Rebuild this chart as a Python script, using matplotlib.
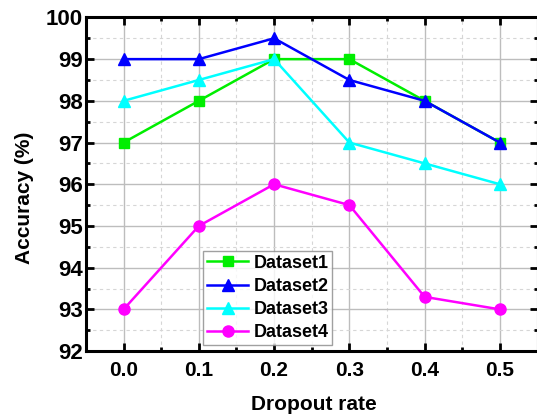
import matplotlib
matplotlib.use("Agg")
import matplotlib.pyplot as plt
from matplotlib.ticker import MultipleLocator

plt.rcParams['font.family'] = ['Liberation Sans', 'DejaVu Sans']
plt.rcParams['font.weight'] = 'bold'

dropout = [0.0, 0.1, 0.2, 0.3, 0.4, 0.5]
dataset1 = [97, 98, 99, 99, 98, 97]
dataset2 = [99, 99, 99.5, 98.5, 98, 97]
dataset3 = [98, 98.5, 99, 97, 96.5, 96]
dataset4 = [93, 95, 96, 95.5, 93.3, 93]
names = ['Dataset1', 'Dataset2', 'Dataset3', 'Dataset4']

fig = plt.figure(figsize=(5.37, 4.15), dpi=100)
ax = fig.add_axes([0.160, 0.154, 0.841, 0.804])

# ── grid ──
ax.set_axisbelow(True)
ax.grid(which='major', color='#bdbdbd', lw=1.0, ls='-')
ax.grid(which='minor', color='#d6d6d6', lw=0.8, ls=(0, (3, 3)))

# ── series ──
ax.plot(dropout, dataset1, color='#00ee00', lw=1.8, marker='s', ms=6.5, label=names[0])
ax.plot(dropout, dataset2, color='#0000ff', lw=1.8, marker='^', ms=8, label=names[1])
ax.plot(dropout, dataset3, color='#00ffff', lw=1.8, marker='^', ms=8, label=names[2])
ax.plot(dropout, dataset4, color='#ff00ff', lw=1.8, marker='o', ms=8, label=names[3])

# ── axes setup ──
ax.set_xlim(-0.05, 0.55)
ax.set_ylim(92, 100)
ax.xaxis.set_minor_locator(MultipleLocator(0.05))
ax.yaxis.set_major_locator(MultipleLocator(1))
ax.yaxis.set_minor_locator(MultipleLocator(0.5))
ax.set_xticks(dropout)
ax.set_xticklabels([f'{v:.1f}' for v in dropout])

ax.tick_params(which='both', direction='in', top=True, right=True, width=2)
ax.tick_params(which='major', length=6)
ax.tick_params(which='minor', length=3)
ax.tick_params(axis='x', which='major', labelsize=15, pad=7)
ax.tick_params(axis='y', which='major', labelsize=16, pad=2)
for lab in ax.get_xticklabels() + ax.get_yticklabels():
    lab.set_fontweight('bold')
for sp in ax.spines.values():
    sp.set_linewidth(2.2)

ax.set_xlabel('Dropout rate', fontsize=15, fontweight='bold', va='top')
ax.xaxis.set_label_coords(0.504, -0.132)
ax.set_ylabel('Accuracy (%)', fontsize=15, fontweight='bold')
ax.yaxis.set_label_coords(-0.115, 0.458)

# ── legend ──
leg = ax.legend(loc='lower left', bbox_to_anchor=(0.26, 0.018), fontsize=13,
                frameon=True, fancybox=False, edgecolor='#888888',
                handlelength=2.3, handletextpad=0.28, borderpad=0.2,
                labelspacing=0.35, borderaxespad=0)
leg.get_frame().set_linewidth(1.0)
for t in leg.get_texts():
    t.set_fontweight('bold')

fig.savefig('out.png', dpi=100)
